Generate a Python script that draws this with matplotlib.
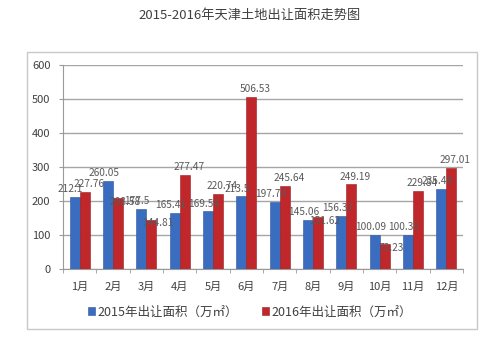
import numpy as np
import matplotlib.pyplot as plt
from matplotlib.patches import Rectangle

plt.rcParams['font.family'] = ['Noto Sans CJK SC', 'DejaVu Sans']

months = ['1月', '2月', '3月', '4月', '5月', '6月',
          '7月', '8月', '9月', '10月', '11月', '12月']
area2015 = [212.1, 260.05, 177.5, 165.41, 169.54, 213.5,
            197.74, 145.06, 156.37, 100.09, 100.35, 235.48]
area2016 = [227.76, 208.58, 144.81, 277.47, 220.74, 506.53,
            245.64, 151.62, 249.19, 73.23, 229.84, 297.01]
label2015 = '2015年出让面积（万㎡）'
label2016 = '2016年出让面积（万㎡）'
title = '2015-2016年天津土地出让面积走势图'

blue = '#3a6cc0'
red = '#c0272b'
grey = '#595959'
axisgrey = '#9a9a9a'

fig = plt.figure(figsize=(5.0, 3.48), dpi=100)
ax = fig.add_axes([0.126, 0.227, 0.80, 0.586])

# outer chart frame
fig.patches.append(Rectangle((0.054, 0.055), 0.900, 0.796, transform=fig.transFigure,
                             fill=False, edgecolor='#c8c8c8', linewidth=1.0))

x = np.arange(len(months))
w = 0.3
b1 = ax.bar(x - w / 2, area2015, w, color=blue, edgecolor='#2c5599', linewidth=0.4,
            label=label2015, zorder=3)
b2 = ax.bar(x + w / 2, area2016, w, color=red, edgecolor='#9c1c20', linewidth=0.4,
            label=label2016, zorder=3)

# value labels; 2015 nudged left
for r, v in zip(b1, area2015):
    ax.annotate(f'{v:g}', (r.get_x() + r.get_width() / 2, v),
                xytext=(-3, 2), textcoords='offset points',
                ha='center', va='bottom', fontsize=7.3, color=grey, zorder=4)
# 2016 labels drop to the bar top when the 2015 label would sit in the way
for r, v, v0 in zip(b2, area2016, area2015):
    low = v < v0 + 10
    ax.annotate(f'{v:g}', (r.get_x() + r.get_width() / 2, v),
                xytext=(5 if low else 3, 1 if low else 2), textcoords='offset points',
                ha='center', va='top' if low else 'bottom',
                fontsize=7.3, color=grey, zorder=4)

ax.set_ylim(0, 600)
ax.set_yticks(range(0, 601, 100))
ax.set_xlim(-0.5, len(months) - 0.5)
ax.set_xticks(x)
ax.set_xticklabels(months)
ax.set_xticks(np.arange(-0.5, len(months)), minor=True)
ax.tick_params(axis='x', which='major', length=0, pad=9, labelsize=8, labelcolor='#404040')
ax.tick_params(axis='x', which='minor', length=3, color=axisgrey, direction='out')
ax.tick_params(axis='y', length=3, color=axisgrey, labelsize=8, labelcolor='#404040', pad=6)
ax.yaxis.grid(True, color='#a6a6a6', linewidth=1.0, zorder=0)
ax.set_axisbelow(True)
for side in ('top', 'right'):
    ax.spines[side].set_visible(False)
for side in ('left', 'bottom'):
    ax.spines[side].set_color(axisgrey)

fig.text(0.5, 0.955, title, ha='center', va='center', fontsize=9.5, color='#404040')

fig.legend(handles=[b1, b2], labels=[label2015, label2016], loc='center',
           bbox_to_anchor=(0.5, 0.103), ncol=2, frameon=False, fontsize=9,
           handlelength=0.6, handleheight=0.6, handletextpad=0.2, columnspacing=1.9,
           labelcolor='#404040')

fig.savefig('out.png', dpi=100)
